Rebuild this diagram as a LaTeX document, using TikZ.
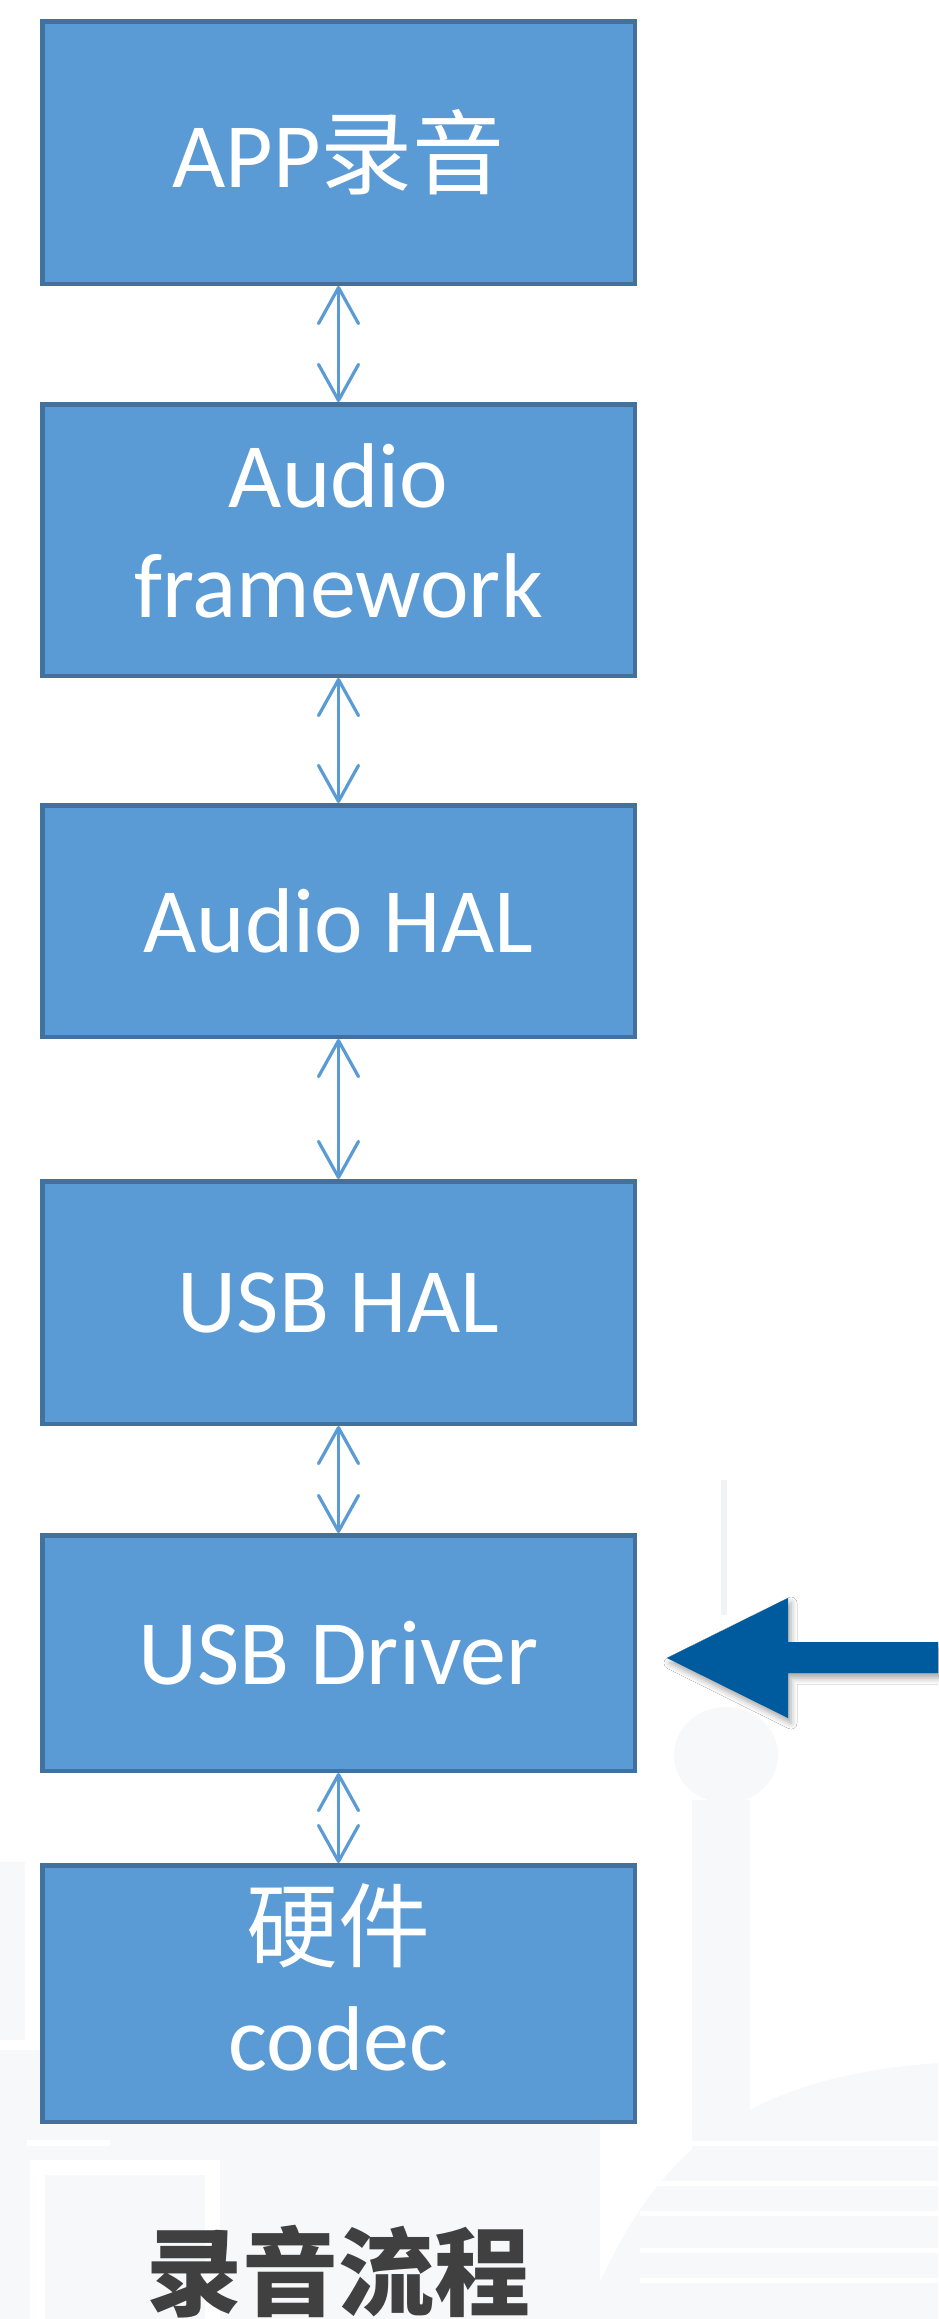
\documentclass[tikz,border=0pt]{standalone}
\usepackage{fontspec}
\setmainfont{Carlito}
\newfontfamily\cjk{Noto Sans CJK SC}
\usetikzlibrary{arrows.meta,shadows.blur}
\definecolor{boxfill}{HTML}{5B9BD5}
\definecolor{boxline}{HTML}{41719C}
\definecolor{bigarrow}{HTML}{005A9E}
\definecolor{titlegray}{HTML}{404040}
\definecolor{wm}{HTML}{F7F8FA}
\definecolor{wmline}{HTML}{F1F2F4}
\newcommand\twolines[2]{\begin{tabular}{@{}c@{}}#1\\#2\end{tabular}}
\begin{document}
\begin{tikzpicture}[x=1pt,y=-1pt,
  box/.style={draw=boxline, fill=boxfill, line width=4.5pt, minimum width=592.5pt,
    inner sep=0pt, text=white, font=\fontsize{92}{110}\selectfont},
  link/.style={draw=boxfill, line width=3.2pt, line cap=round,
    {Straight Barb[length=36pt,width=40pt,round]}-{Straight Barb[length=36pt,width=40pt,round]}},
  wmark/.style={fill=wm, draw=none}]
\useasboundingbox (0,0) rectangle (938,2319);
\fill[white] (0,0) rectangle (938,2319);
% faint watermark
\fill[wmark] (0,2050) rectangle (600,2319);
\fill[white] (30,2160) rectangle (220,2319);
\fill[wmark] (45,2175) rectangle (205,2319);
\fill[white] (27,2140) rectangle (110,2146);
\fill[wmark] (0,1862) rectangle (25,2040);
\fill[wmline] (721,1480) rectangle (727,1615);
\fill[wmark] (726,1755) ellipse (52 and 48);
\fill[wmark] (692,1800) rectangle (750,2319);
\fill[wmark] (583,2319) .. controls (640,2190) and (700,2080) .. (938,2063) -- (938,2319) -- cycle;
\foreach \yy in {2141,2181,2211,2248,2278}{\fill[white] (640,\yy) rectangle (938,\yy+5);}
% boxes
\node[box, minimum height=262.5pt] (b1) at (338.5,152.5) {APP{\cjk 录音}};
\node[box, minimum height=271.5pt] (b2) at (338.5,540) {\twolines{Audio}{framework}};
\node[box, minimum height=231.5pt] (b3) at (338.5,921) {Audio HAL};
\node[box, minimum height=242.5pt] (b4) at (338.5,1302.5) {USB HAL};
\node[box, minimum height=235.5pt] (b5) at (338.5,1653) {USB Driver};
\node[box, minimum height=256.5pt] (b6) at (338.5,1993.5) {\twolines{\cjk 硬件}{codec}};
% links
\draw[link] (b1.south) -- (b2.north);
\draw[link] (b2.south) -- (b3.north);
\draw[link] (b3.south) -- (b4.north);
\draw[link] (b4.south) -- (b5.north);
\draw[link] (b5.south) -- (b6.north);
% big arrow
\fill[bigarrow, blur shadow={shadow xshift=3pt, shadow yshift=-5pt, shadow opacity=35, shadow blur radius=6pt}]
  (667,1658) -- (788,1598) -- (788,1642) -- (938,1642) -- (938,1673) -- (788,1673) -- (788,1718) -- cycle;
% title
\node[font=\cjk\bfseries\fontsize{96}{110}\selectfont, text=titlegray] (title) at (338.5,2272) {录音流程};
\end{tikzpicture}
\end{document}
